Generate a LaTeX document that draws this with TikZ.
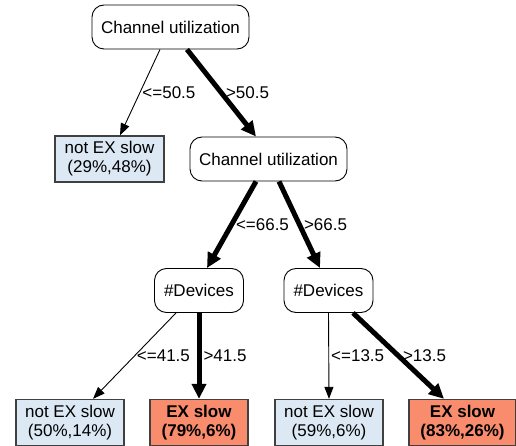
\documentclass[tikz,border=0pt]{standalone}
\usepackage{fontspec}
\setmainfont{Liberation Sans}
\usetikzlibrary{arrows.meta}
\definecolor{leafblue}{HTML}{DCE8F4}
\definecolor{leafred}{HTML}{FA8C6E}
\tikzset{
  split/.style={draw,rounded corners=12pt,line width=0.9pt,minimum width=157pt,minimum height=44pt,inner sep=0pt},
  leaf/.style={draw=black!75,line width=1.3pt,fill=leafblue,minimum height=46pt,inner sep=0pt,align=center},
  hot/.style={leaf,fill=leafred,font=\fontsize{17}{19}\selectfont\bfseries},
  lo/.style={line width=0.9pt,-{Triangle[length=12pt,width=9pt]}},
  hi/.style={line width=5pt,-{Triangle[length=15pt,width=14pt]}},
  cond/.style={midway,anchor=west,inner sep=2pt}
}
\begin{document}
\begin{tikzpicture}[x=1pt,y=-1pt,font=\fontsize{17}{19}\selectfont]
\useasboundingbox (0,0) rectangle (516,446);
% tree nodes
\node[split] (root) at (170.5,27) {Channel utilization};
\node[leaf,minimum width=109pt] (l1) at (109.5,159) {not EX slow\\(29\%,48\%)};
\node[split] (cu) at (268.5,159) {Channel utilization};
\node[split,minimum width=89pt] (devl) at (199,290.5) {\#Devices};
\node[split,minimum width=89pt] (devr) at (328.5,290.5) {\#Devices};
\node[leaf,minimum width=108pt] (l2) at (70,422.5) {not EX slow\\(50\%,14\%)};
\node[hot,minimum width=98pt] (l3) at (199,422.5) {EX slow\\(79\%,6\%)};
\node[leaf,minimum width=108pt] (l4) at (329,422.5) {not EX slow\\(59\%,6\%)};
\node[hot,minimum width=107pt] (l5) at (462.5,422.5) {EX slow\\(83\%,26\%)};
% edges
\draw[lo] ([xshift=-10.5pt]root.south) -- ([xshift=10.5pt]l1.north) node[cond] {<=50.5};
\draw[hi] ([xshift=16.5pt]root.south) -- ([xshift=-12.5pt]cu.north) node[cond] {>50.5};
\draw[hi] ([xshift=-12.5pt]cu.south) -- ([xshift=8pt]devl.north) node[cond] {<=66.5};
\draw[hi] ([xshift=10.5pt]cu.south) -- ([xshift=-8.5pt]devr.north) node[cond] {>66.5};
\draw[lo] ([xshift=-23pt]devl.south) -- ([xshift=23pt]l2.north) node[cond] {<=41.5};
\draw[hi] (devl.south) -- (l3.north) node[cond] {>41.5};
\draw[lo] (devr.south) -- (l4.north) node[cond] {<=13.5};
\draw[hi] ([xshift=24.5pt]devr.south) -- ([xshift=-18.5pt]l5.north) node[cond] {>13.5};
\end{tikzpicture}
\end{document}
